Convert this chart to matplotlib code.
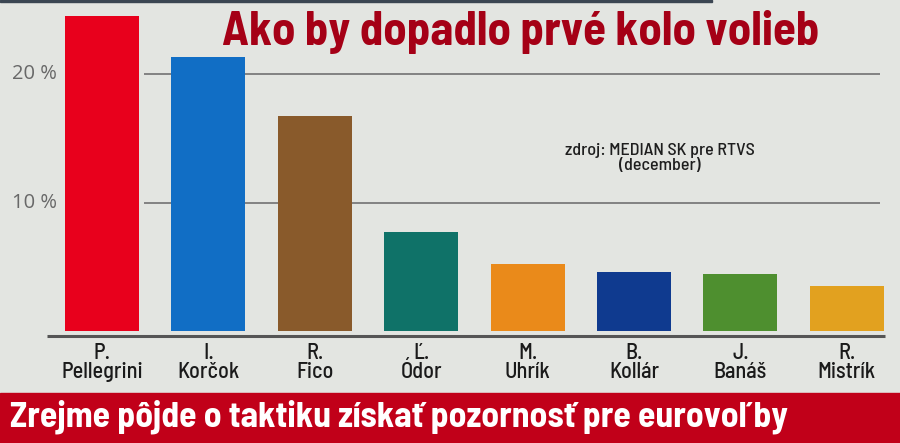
import matplotlib
matplotlib.use("Agg")
import matplotlib.pyplot as plt
from matplotlib.patches import Rectangle

# data
candidates = ["P.\nPellegrini", "I.\nKorčok", "R.\nFico", "Ľ.\nÓdor",
              "M.\nUhrík", "B.\nKollár", "J.\nBanáš", "R.\nMistrík"]
support = [24.5, 21.3, 16.7, 7.7, 5.2, 4.6, 4.4, 3.5]
bar_colors = ["#e8001c", "#116ec5", "#895a2b", "#0f7268",
              "#ea8a1a", "#0f3a8f", "#4e8f2f", "#e2a11f"]
yticks = [10, 20]
ytick_labels = ["10 %", "20 %"]

title = "Ako by dopadlo prvé kolo volieb"
source = "zdroj: MEDIAN SK pre RTVS\n(december)"
banner = "Zrejme pôjde o taktiku získať pozornosť pre eurovoľby"

narrow = ["Barlow Semi Condensed", "Barlow Condensed", "DejaVu Sans"]
bg = "#e3e5e1"

fig = plt.figure(figsize=(9, 4.43), dpi=100)
fig.patch.set_facecolor(bg)

W, H = 900, 443
ax = fig.add_axes([0, 50 / H, 1, 393 / H])
ax.set_facecolor(bg)
for s in ax.spines.values():
    s.set_visible(False)
ax.set_xticks([])
ax.set_yticks([])

# pixel helpers for placing things like the original
x0, dx = 102, 106.4
def px_x(p):
    return (p - x0) / dx

zero_px, per = 331, 12.85
ax.set_xlim(px_x(0), px_x(W))
ax.set_ylim(-62 / per, zero_px / per)

idx = list(range(len(candidates)))
ax.hlines(yticks, px_x(144), px_x(880), color="#7a7a7a", lw=1.3, zorder=1)
ax.bar(idx, support, width=74 / dx, color=bar_colors, zorder=2)
ax.hlines(-0.4, px_x(47), px_x(885), color="#555555", lw=2.2, zorder=3)

for v, lab in zip(yticks, ytick_labels):
    ax.text(px_x(57), v, lab, ha="right", va="center", fontsize=14.5,
            color="#686868", family=["Open Sans", "DejaVu Sans"])

for i, lab in enumerate(candidates):
    ax.text(i, -0.95, lab, ha="center", va="top", fontsize=16,
            color="#1a1a1a", family=narrow, fontweight=500, linespacing=0.9)

ax.text(px_x(660), (zero_px - 158) / per, source, ha="center", va="center",
        fontsize=13, color="#1e1e1e", family=narrow, fontweight=500,
        linespacing=0.95)

fig.text(222 / W, 1 - 45 / H, title, ha="left", va="baseline",
         fontsize=33.7, fontweight="bold", color="#a50016", family=narrow)

# thin dark strip at the very top
fig.patches.append(Rectangle((0, 1 - 2 / H), 712 / W, 2 / H,
                             transform=fig.transFigure, color="#3b4652"))

fig.patches.append(Rectangle((0, 0), 1, 50 / H, transform=fig.transFigure,
                             color="#c10019", zorder=0))
fig.text(10 / W, 1 - 427 / H, banner, ha="left", va="baseline",
         fontsize=25.6, fontweight="bold", color="white", family=narrow)

fig.savefig("out.png", dpi=100, facecolor=bg)
